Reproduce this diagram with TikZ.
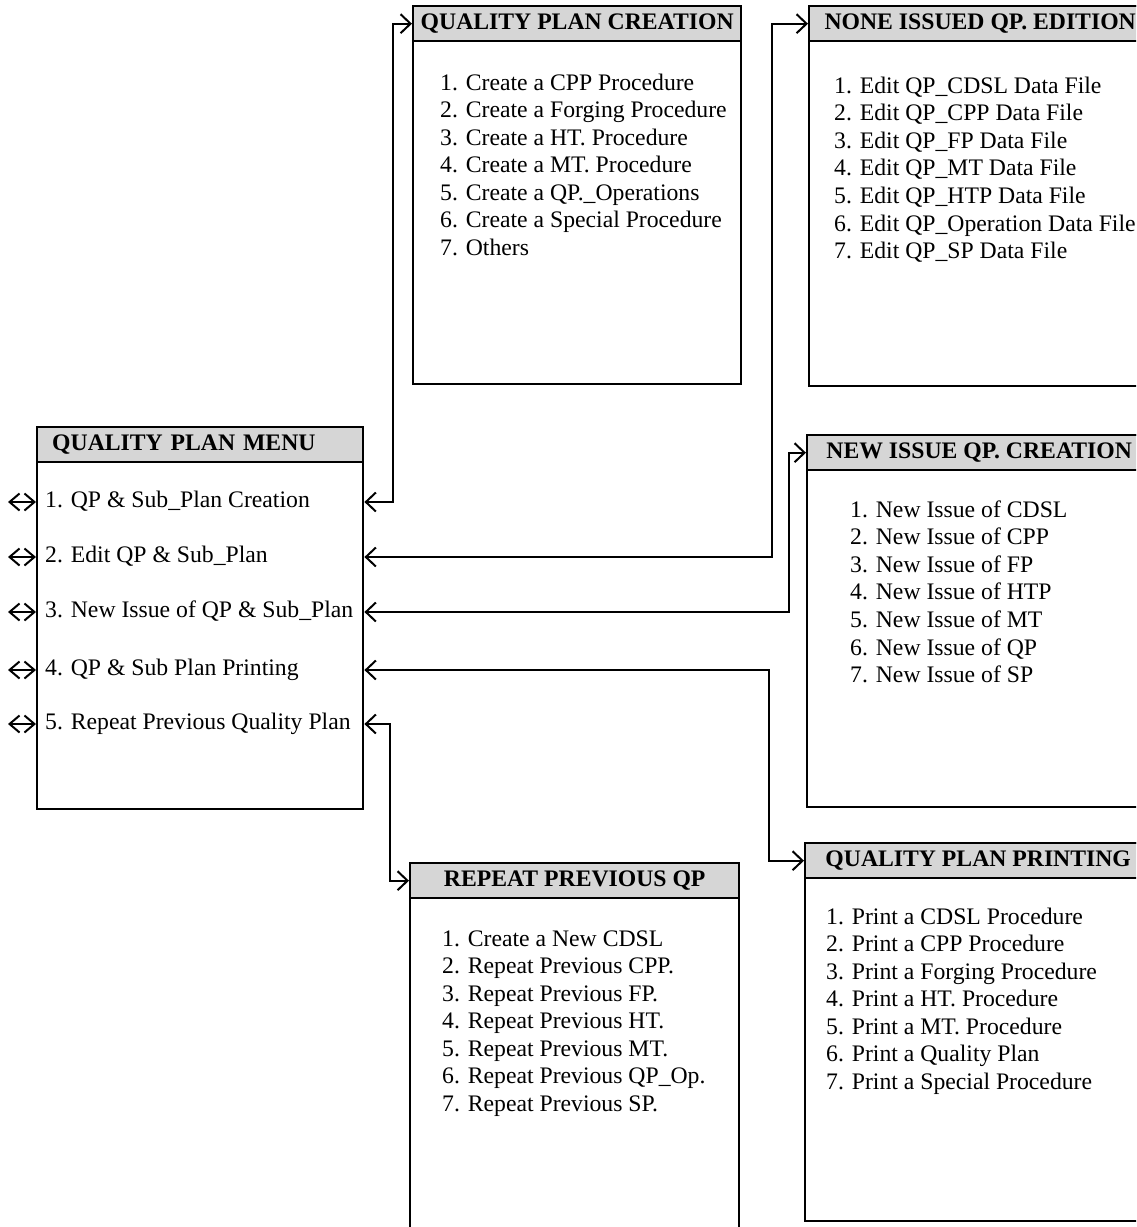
\documentclass[tikz,border=0pt]{standalone}
\usepackage{fontspec}
\setmainfont{Liberation Serif}
\usetikzlibrary{arrows.meta}
\begin{document}
\begin{tikzpicture}[x=1pt,y=-1pt,
  txt/.style={font=\fontsize{23.7}{27.5}\selectfont, inner sep=0pt},
  item/.style={txt, anchor=base west},
  mitem/.style={txt, anchor=west, text height=16pt, text depth=5pt},
  boxb/.style={draw, line width=2.4pt, anchor=north west, inner sep=0pt},
  hdr/.style={draw, line width=2.4pt, fill=gray!32, anchor=north west, minimum height=35pt,
    inner sep=0pt, font=\fontsize{23.7}{27.5}\selectfont\bfseries},
  conn/.style={line width=2pt, {Straight Barb[length=10pt,width=19pt]}-{Straight Barb[length=10pt,width=19pt]}},
  dbl/.style={line width=2pt, {Straight Barb[length=10pt,width=17pt]}-{Straight Barb[length=10pt,width=17pt]}}
]
\useasboundingbox (0,0) rectangle (1136,1227);
\clip (0,0) rectangle (1136,1227);

% boxes
\node[boxb, minimum width=328pt, minimum height=378pt] (qpc) at (412,5) {};
\node[hdr, minimum width=328pt] (hqpc) at (412,5) {QUALITY PLAN CREATION};

\node[boxb, minimum width=342pt, minimum height=380pt] (nie) at (808,5) {};
\node[hdr, minimum width=342pt] (hnie) at (808,5) {NONE ISSUED QP. EDITION};

\node[boxb, minimum width=344pt, minimum height=372pt] (nic) at (806,434) {};
\node[hdr, minimum width=344pt] (hnic) at (806,434) {NEW ISSUE QP. CREATION};

\node[boxb, minimum width=346pt, minimum height=378pt] (qpp) at (804,842) {};
\node[hdr, minimum width=346pt] (hqpp) at (804,842) {QUALITY PLAN PRINTING};

\node[boxb, minimum width=326pt, minimum height=382pt] (menu) at (36,426) {};
\node[hdr, minimum width=326pt, text width=296pt, inner xsep=15pt, align=left] (hmenu) at (36,426) {QUALITY PLAN MENU};

\node[boxb, minimum width=329pt, minimum height=380pt] (rpq) at (409,862) {};
\node[hdr, minimum width=329pt] (hrpq) at (409,862) {REPEAT PREVIOUS QP};

% lists
\foreach \t [count=\i] in {1. Create a CPP Procedure, 2. Create a Forging Procedure,
  3. Create a HT. Procedure, 4. Create a MT. Procedure, 5. Create a QP.\_Operations,
  6. Create a Special Procedure, 7. Others}
  \node[item] (qpc-\i) at (440,{90+27.5*(\i-1)}) {\t};

\foreach \t [count=\i] in {1. Edit QP\_CDSL Data File, 2. Edit QP\_CPP Data File,
  3. Edit QP\_FP Data File, 4. Edit QP\_MT Data File, 5. Edit QP\_HTP Data File,
  6. Edit QP\_Operation Data File, 7. Edit QP\_SP Data File}
  \node[item] (nie-\i) at (834,{93+27.6*(\i-1)}) {\t};

\foreach \t [count=\i] in {1. New Issue of CDSL, 2. New Issue of CPP, 3. New Issue of FP,
  4. New Issue of HTP, 5. New Issue of MT, 6. New Issue of QP, 7. New Issue of SP}
  \node[item] (nic-\i) at (850,{517+27.6*(\i-1)}) {\t};

\foreach \t [count=\i] in {1. Print a CDSL Procedure, 2. Print a CPP Procedure,
  3. Print a Forging Procedure, 4. Print a HT. Procedure, 5. Print a MT. Procedure,
  6. Print a Quality Plan, 7. Print a Special Procedure}
  \node[item] (qpp-\i) at (826,{924+27.5*(\i-1)}) {\t};

\foreach \t [count=\i] in {1. Create a New CDSL, 2. Repeat Previous CPP., 3. Repeat Previous FP.,
  4. Repeat Previous HT., 5. Repeat Previous MT., 6. Repeat Previous QP\_Op., 7. Repeat Previous SP.}
  \node[item] (rpq-\i) at (442,{946+27.5*(\i-1)}) {\t};

% menu items
\node[mitem] (m1) at (45,502) {1. QP \& Sub\_Plan Creation};
\node[mitem] (m2) at (45,557) {2. Edit QP \& Sub\_Plan};
\node[mitem] (m3) at (45,612) {3. New Issue of QP \& Sub\_Plan};
\node[mitem] (m4) at (45,670) {4. QP \& Sub Plan Printing};
\node[mitem] (m5) at (45,724) {5. Repeat Previous Quality Plan};

% left double arrows
\foreach \i in {1,...,5}
  \draw[dbl] (m\i -| menu.west) -- ++(-28,0);

% connectors
\draw[conn] (m1 -| menu.east) -- ++(29,0) |- (hqpc.west);
\draw[conn] (m2 -| menu.east) -- ++(408,0) |- (hnie.west);
\draw[conn] (m3 -| menu.east) -- ++(425,0) |- (hnic.west);
\draw[conn] (m4 -| menu.east) -- ++(405,0) |- (hqpp.west);
\draw[conn] (m5 -| menu.east) -- ++(26,0) |- (hrpq.west);
\end{tikzpicture}
\end{document}
